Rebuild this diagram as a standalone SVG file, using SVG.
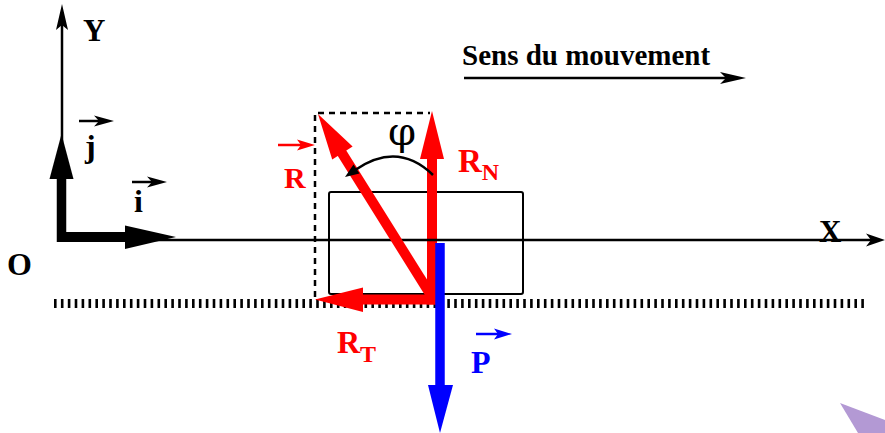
<svg xmlns="http://www.w3.org/2000/svg" width="885" height="433" viewBox="0 0 885 433">
<style>
.lbl{font-family:"Liberation Serif","Times New Roman",serif;font-weight:bold}
.blk{fill:#000}
.red{fill:#ff0000}
.blu{fill:#0000ff}
.thin{stroke:#000;stroke-width:2.5;fill:none}
</style>
<rect width="885" height="433" fill="#fff"/>
<polygon points="840,403 885,420 885,433 858,433" fill="#b399d4"/>

<g id="ground">
<line x1="54" y1="303.5" x2="866" y2="303.5" stroke="#000" stroke-width="9" stroke-dasharray="2.6 4.3"/>
</g>

<g id="block">
<rect x="329" y="192" width="194" height="102" rx="2" fill="none" stroke="#000" stroke-width="2"/>
</g>

<g id="construction">
<path d="M315,297 V113 H430" fill="none" stroke="#000" stroke-width="2.5" stroke-dasharray="6 5"/>
</g>

<g id="connectors">
<!-- Y axis -->
<line class="thin" x1="62" y1="240" x2="62" y2="22"/>
<polygon class="blk" points="62,4 68,30 62,25 56,30"/>
<!-- unit vectors -->
<line x1="61.5" y1="242" x2="61.5" y2="175" stroke="#000" stroke-width="9.5"/>
<polygon class="blk" points="61.5,134 73.5,179 49.5,179"/>
<line x1="57" y1="237" x2="128" y2="237" stroke="#000" stroke-width="10"/>
<polygon class="blk" points="176,237 125,225.5 125,249"/>
<!-- R_N -->
<line x1="432" y1="304.5" x2="432" y2="155" stroke="#ff0000" stroke-width="10"/>
<polygon class="red" points="432,111 444,159 420,159"/>
<!-- X axis -->
<line class="thin" x1="60" y1="240" x2="872" y2="240"/>
<polygon class="blk" points="885,240 866,233.5 871,240 866,246.5"/>
<!-- R -->
<line x1="432" y1="297" x2="340" y2="150" stroke="#ff0000" stroke-width="10"/>
<polygon class="red" points="318,114 352.6,146.6 332.2,159.4"/>
<!-- R_T -->
<line x1="437" y1="299.5" x2="360" y2="299.5" stroke="#ff0000" stroke-width="10"/>
<polygon class="red" points="315,299.5 363,287.5 363,312"/>
<!-- P -->
<line x1="440" y1="243" x2="440" y2="388" stroke="#0000ff" stroke-width="9.5"/>
<polygon class="blu" points="440,433 453,385 428,385"/>
<!-- phi arc -->
<path d="M433,175 Q398,141 356,169.5" class="thin" stroke-width="2"/>
<polygon class="blk" points="345,177 359.5,173.5 353.5,164.5"/>
<!-- motion arrow -->
<line class="thin" x1="464" y1="78" x2="730" y2="78"/>
<polygon class="blk" points="746,78 720,72 726,78 720,84"/>
</g>

<g id="labels">
<text class="lbl" x="83" y="41" font-size="31">Y</text>
<text class="lbl" x="7" y="275" font-size="32">O</text>
<text class="lbl" x="819" y="242" font-size="31">X</text>
<text class="lbl" x="462" y="65" font-size="29">Sens du mouvement</text>

<g id="label-j">
<line x1="79" y1="121" x2="100" y2="121" stroke="#000" stroke-width="2.5"/>
<polygon class="blk" points="114,121 94,115.5 99,121 94,126.5"/>
<text class="lbl" x="85" y="157" font-size="32">j</text>
</g>
<g id="label-i">
<line x1="132" y1="182" x2="153" y2="182" stroke="#000" stroke-width="2.5"/>
<polygon class="blk" points="167,182 147,176.5 152,182 147,187.5"/>
<text class="lbl" x="134" y="212" font-size="32">i</text>
</g>
<g id="label-R">
<line x1="278" y1="145" x2="302" y2="145" stroke="#ff0000" stroke-width="2.5"/>
<polygon class="red" points="315,145 297,139.5 301,145 297,150.5"/>
<text class="lbl" x="284" y="188" font-size="30" fill="#ff0000">R</text>
</g>
<g id="label-RN">
<text class="lbl" x="458" y="172" font-size="33" fill="#ff0000">R<tspan font-size="24" dy="8">N</tspan></text>
</g>
<g id="label-RT">
<text class="lbl" x="337" y="353" font-size="32" fill="#ff0000">R<tspan font-size="24" dy="9">T</tspan></text>
</g>
<g id="label-P">
<line x1="476" y1="334" x2="499" y2="334" stroke="#0000ff" stroke-width="2.5"/>
<polygon class="blu" points="512,334 494,328.5 498,334 494,339.5"/>
<text class="lbl" x="471" y="373" font-size="32" fill="#0000ff">P</text>
</g>
<text x="402" y="145" font-size="40" text-anchor="middle" font-family="'DejaVu Serif','Liberation Serif',serif">φ</text>
</g>
</svg>
